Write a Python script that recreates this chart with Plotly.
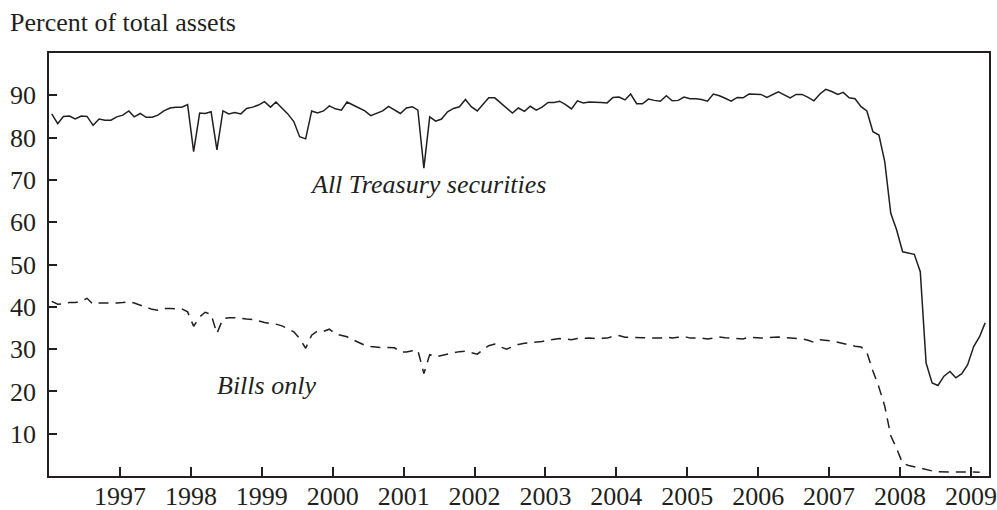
import pandas as pd
import plotly.graph_objects as go

# monthly observations, mid-month, Jan 1996 onward
all_treasury = [
    85.6, 83.3, 85.0, 85.1, 84.4, 85.1, 85.0, 82.9, 84.4, 84.1, 84.1, 84.9,
    85.3, 86.3, 84.9, 85.7, 84.8, 84.8, 85.3, 86.3, 87.0, 87.2, 87.2, 87.8,
    76.7, 85.8, 85.7, 86.1, 77.1, 86.3, 85.6, 85.9, 85.6, 86.9, 87.2, 87.7,
    88.5, 87.2, 88.4, 86.9, 85.6, 83.8, 80.2, 79.7, 86.3, 85.8, 86.3, 87.5,
    86.8, 86.5, 88.4, 87.7, 87.0, 86.3, 85.2, 85.8, 86.3, 87.4, 86.6, 85.7,
    87.0, 87.3, 86.5, 72.8, 84.9, 83.9, 84.4, 86.1, 86.9, 87.3, 89.0, 87.3,
    86.3, 87.8, 89.4, 89.4, 88.2, 87.0, 85.8, 87.0, 86.2, 87.4, 86.5, 87.2,
    88.3, 88.3, 88.6, 87.8, 86.8, 88.7, 88.2, 88.4, 88.4, 88.3, 88.2, 89.5,
    89.6, 88.9, 90.3, 88.0, 88.0, 89.1, 88.8, 88.6, 89.9, 88.7, 88.8, 89.6,
    89.2, 89.2, 89.0, 88.6, 90.3, 89.9, 89.3, 88.6, 89.5, 89.4, 90.3, 90.3,
    90.2, 89.5, 90.2, 90.8, 90.1, 89.4, 90.2, 90.2, 89.5, 88.7, 90.3, 91.4,
    90.9, 90.2, 90.7, 89.4, 89.2, 87.3, 86.3, 81.4, 80.6, 74.3, 62.1, 58.2,
    53.0, 52.7, 52.4, 48.3, 26.7, 22.0, 21.4, 23.6, 24.7, 23.2, 24.2, 26.3,
    30.6, 33.0, 36.2,
]

bills_only = [
    41.3, 40.6, 40.7, 41.0, 41.0, 41.3, 42.0, 40.6, 40.9, 40.9, 40.8, 40.9,
    41.0, 41.2, 40.9, 40.4, 39.8, 39.4, 39.2, 39.6, 39.6, 39.6, 39.5, 38.8,
    35.4, 37.6, 38.7, 38.2, 33.7, 37.2, 37.4, 37.4, 37.2, 37.1, 37.0, 36.6,
    36.3, 36.0, 35.9, 35.5, 34.9, 34.1, 32.5, 30.2, 33.3, 34.3, 34.2, 34.7,
    33.6, 33.2, 32.9, 32.2, 31.5, 30.9, 30.6, 30.5, 30.3, 30.4, 30.3, 29.3,
    29.3, 29.6, 29.7, 24.2, 28.7, 28.2, 28.5, 28.8, 29.2, 29.4, 29.5, 29.2,
    28.8, 29.9, 30.8, 31.2, 30.5, 30.0, 30.5, 31.1, 31.4, 31.5, 31.6, 31.8,
    32.1, 32.4, 32.5, 32.4, 32.2, 32.5, 32.6, 32.6, 32.5, 32.5, 32.6, 33.0,
    33.2, 32.8, 32.8, 32.8, 32.7, 32.6, 32.6, 32.6, 32.9, 32.6, 32.8, 33.0,
    32.6, 32.6, 32.6, 32.4, 32.6, 32.85, 32.7, 32.6, 32.6, 32.4, 32.85, 32.7,
    32.6, 32.7, 32.85, 32.85, 32.7, 32.6, 32.5, 32.4, 32.1, 31.6, 32.2, 32.1,
    31.9, 31.6, 31.3, 31.0, 30.7, 30.5, 29.2, 24.8, 21.0, 16.5, 9.5, 6.5,
    3.0, 2.5, 2.2, 1.8, 1.4, 1.2, 1.0, 1.0, 1.0, 1.0, 1.0, 1.0,
    1.0, 0.9,
]

years = [str(y) for y in range(1997, 2010)]
y_ticks = [10, 20, 30, 40, 50, 60, 70, 80, 90]

months = pd.date_range("1996-01-01", periods=len(all_treasury), freq="MS") + pd.Timedelta(days=14)

INK = "#231f20"
FONT = "Liberation Serif, Times New Roman, serif"

fig = go.Figure()
fig.add_trace(go.Scatter(
    x=months, y=all_treasury, mode="lines",
    line=dict(color=INK, width=1.5), name="All Treasury securities",
))
fig.add_trace(go.Scatter(
    x=months[:len(bills_only)], y=bills_only, mode="lines",
    line=dict(color=INK, width=1.5, dash="10px,7px"), name="Bills only",
))

fig.add_annotation(x="2001-05-05", y=69, text="<i>All Treasury securities</i>",
                   showarrow=False, font=dict(size=26, color=INK, family=FONT))
fig.add_annotation(x="1999-01-26", y=21.3, text="<i>Bills only</i>",
                   showarrow=False, font=dict(size=26, color=INK, family=FONT))
fig.add_annotation(xref="paper", yref="paper", x=-0.0436, y=1.073,
                   xanchor="left", yanchor="middle",
                   text="Percent of total assets", showarrow=False,
                   font=dict(size=26, color=INK, family=FONT))

fig.update_layout(
    width=997, height=510,
    margin=dict(l=49, r=8, t=53, b=34, autoexpand=False),
    paper_bgcolor="white", plot_bgcolor="white",
    showlegend=False,
    font=dict(family=FONT, size=26, color=INK),
    xaxis=dict(
        type="date", range=["1996-01-01", "2009-04-04"],
        tickvals=[f"{y}-01-01" for y in years], ticktext=years,
        ticks="inside", ticklen=9, tickwidth=1.5, tickcolor=INK,
        showline=True, linecolor=INK, linewidth=1.5, mirror=True,
        showgrid=False, zeroline=False, ticklabelstandoff=-4,
        ticklabeloverflow="allow", automargin=False,
    ),
    yaxis=dict(
        range=[0, 100], tickvals=y_ticks,
        ticks="inside", ticklen=8, tickwidth=1.5, tickcolor=INK,
        showline=True, linecolor=INK, linewidth=1.5, mirror=True,
        showgrid=False, zeroline=False, ticklabelstandoff=6,
        automargin=False,
    ),
)

# drop the browser's default 8px body margin so the figure fills the window
fig.write_html(
    "out.html",
    config={"displayModeBar": False},
    post_script="document.body.style.margin = '0px';",
)
